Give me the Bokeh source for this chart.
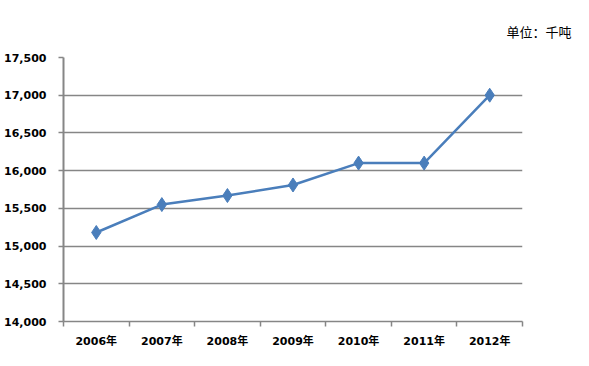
from bokeh.plotting import figure
from bokeh.models import FixedTicker, NumeralTickFormatter, Range1d, ColumnDataSource
from bokeh.embed import file_html
from bokeh.resources import INLINE

years = ["2006年", "2007年", "2008年", "2009年", "2010年", "2011年", "2012年"]
values = [15180, 15550, 15670, 15810, 16100, 16100, 17000]
y_ticks = [14000, 14500, 15000, 15500, 16000, 16500, 17000, 17500]
unit_text = "单位：千吨"

xs = list(range(len(years)))
src = ColumnDataSource(dict(x=xs, y=values))

p = figure(width=573, height=350, output_backend="svg", toolbar_location=None,
           x_range=Range1d(-0.5, len(years) - 0.5), y_range=Range1d(14000, 17500),
           min_border_left=63, min_border_right=51, min_border_top=57, min_border_bottom=26)
p.outline_line_color = None
p.background_fill_color = "white"
p.border_fill_color = "white"

line_color = "#4A7EBB"
p.line("x", "y", source=src, line_color=line_color, line_width=2.5)
p.scatter("x", "y", source=src, marker="diamond", size=14, fill_color=line_color, line_color=line_color)

grey = "#868686"
p.xaxis.ticker = FixedTicker(ticks=xs, minor_ticks=[i - 0.5 for i in range(len(years) + 1)])
p.xaxis.major_label_overrides = {i: y for i, y in enumerate(years)}
p.xaxis.major_tick_out = 0
p.xaxis.major_tick_in = 0
p.xaxis.minor_tick_out = 5
p.xaxis.minor_tick_in = 0
p.xaxis.minor_tick_line_color = grey
p.xaxis.minor_tick_line_width = 1.5
p.xaxis.axis_line_color = grey
p.xaxis.axis_line_width = 1.5
p.xaxis.major_label_text_font = "DejaVu Sans, Noto Sans CJK SC"
p.xaxis.major_label_text_font_style = "bold"
p.xaxis.major_label_text_font_size = "11px"
p.xaxis.major_label_text_color = "black"
p.xaxis.major_label_standoff = 8

p.yaxis.ticker = FixedTicker(ticks=y_ticks)
p.yaxis.formatter = NumeralTickFormatter(format="0,0")
p.yaxis.major_tick_out = 5
p.yaxis.major_tick_in = 0
p.yaxis.minor_tick_line_color = None
p.yaxis.major_tick_line_color = grey
p.yaxis.major_tick_line_width = 1.5
p.yaxis.axis_line_color = grey
p.yaxis.axis_line_width = 2
p.yaxis.major_label_text_font = "DejaVu Sans"
p.yaxis.major_label_text_font_style = "bold"
p.yaxis.major_label_text_font_size = "11px"
p.yaxis.major_label_text_color = "black"
p.yaxis.major_label_standoff = 12

p.xgrid.grid_line_color = None
p.ygrid.ticker = FixedTicker(ticks=y_ticks)
p.ygrid.grid_line_color = grey
p.ygrid.grid_line_width = 1.5

p.title.text = unit_text
p.title.align = "right"
p.title.text_font = "Noto Sans CJK SC"
p.title.text_font_size = "13px"
p.title.text_font_style = "normal"
p.title.text_color = "black"
p.title.standoff = 34
p.title.offset = -49

open("out.html", "w").write(file_html(p, INLINE))
